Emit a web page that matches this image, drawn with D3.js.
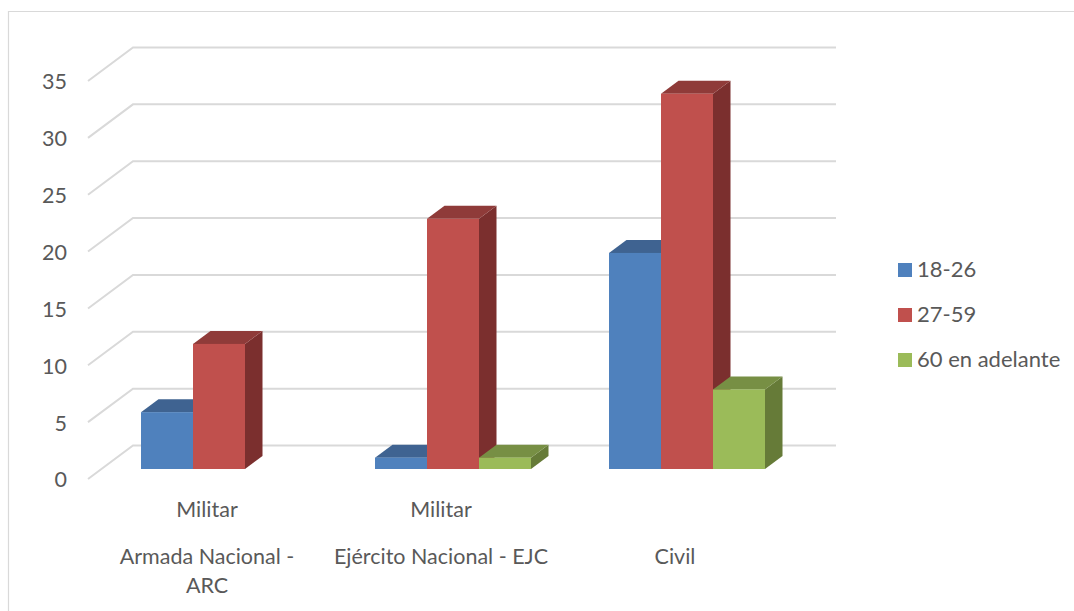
<!DOCTYPE html>
<html>
<head>
<meta charset="utf-8">
<script src="https://cdn.jsdelivr.net/npm/d3@7"></script>
<style>
  body { margin: 0; background: #fff; }
  svg { display: block; }
  text { font-family: Lato, "Open Sans", sans-serif; fill: #595959; }
</style>
</head>
<body>
<div id="chart"></div>
<script>
// values
const groups = ["Armada", "Ejercito", "Civil"];
const topLabels = ["Militar", "Militar", ""];
const bottomLabels = [["Armada Nacional -", "ARC"], ["Ejército Nacional - EJC"], ["Civil"]];
const seriesNames = ["18-26", "27-59", "60 en adelante"];
const values1826 = [5, 1, 19];
const values2759 = [11, 22, 33];
const values60 = [null, 1, 7];
const yTicks = [0, 5, 10, 15, 20, 25, 30, 35];

const seriesValues = [values1826, values2759, values60];
const front = ["#4f81bd", "#c0504d", "#9bbb59"];
const topFace = ["#3f6391", "#8f3b39", "#778f44"];
const sideFace = ["#385d8a", "#7b2f2e", "#667b38"];

const width = 1074;
const height = 611;

// the floor runs back from the front plane to the wall
const plot = { left: 88, right: 790, top: 81, bottom: 479 };
const depth = { x: 45, y: 33.5 };
const barShift = { x: 14, y: 10 };
const barDepth = { x: 17.5, y: 13 };

const svg = d3.select("#chart").append("svg")
    .attr("width", width)
    .attr("height", height);

// chart frame
svg.append("path")
    .attr("d", `M8.5,${height} V11.5 H${width}`)
    .attr("fill", "none")
    .attr("stroke", "#d9d9d9")
    .attr("stroke-width", 1.2);

const x = d3.scaleBand()
    .domain(groups)
    .range([plot.left, plot.right]);

const y = d3.scaleLinear()
    .domain([0, 35])
    .range([plot.bottom, plot.top]);

const inner = d3.scaleBand()
    .domain(d3.range(seriesNames.length))
    .range([x.bandwidth() / 2 - 78, x.bandwidth() / 2 + 78]);

// gridlines: side wall then back wall
svg.append("g")
    .selectAll("path")
    .data(yTicks)
    .join("path")
    .attr("d", d => `M${plot.left},${y(d)} L${plot.left + depth.x},${y(d) - depth.y} H836`)
    .attr("fill", "none")
    .attr("stroke", "#d9d9d9")
    .attr("stroke-width", 2);

// y axis
const yAxis = d3.axisLeft(y).tickValues(yTicks).tickSize(0).tickPadding(21);
const yG = svg.append("g")
    .attr("transform", `translate(${plot.left},1)`)
    .call(yAxis);
yG.select(".domain").remove();
yG.selectAll("text").style("font-size", "21.5px");

// category axis
const xAxis = d3.axisBottom(x).tickSize(0).tickFormat("");
const xG = svg.append("g")
    .attr("transform", `translate(0,${plot.bottom})`)
    .call(xAxis);
xG.select(".domain").remove();
xG.selectAll(".tick").each(function (d, i) {
    const tick = d3.select(this);
    tick.selectAll("text").remove();
    tick.append("text")
        .attr("text-anchor", "middle")
        .attr("x", 2)
        .attr("y", 38)
        .style("font-size", "21.5px")
        .text(topLabels[i]);
    bottomLabels[i].forEach((line, k) => {
        tick.append("text")
            .attr("text-anchor", "middle")
            .attr("x", 2)
            .attr("y", 85 + k * 29)
            .style("font-size", "21.5px")
            .text(line);
    });
});

// 3d bars, drawn left to right so each covers the side of the previous one
const bars = groups.flatMap((g, i) =>
    seriesNames.map((s, k) => ({ group: g, series: k, value: seriesValues[k][i] }))
).filter(d => d.value !== null);

const bar = svg.append("g").selectAll("g")
    .data(bars)
    .join("g")
    .attr("transform", `translate(${barShift.x},${-barShift.y})`);

bar.each(function (d) {
    const g = d3.select(this);
    const x0 = x(d.group) + inner(d.series);
    const x1 = x0 + inner.bandwidth();
    const yTop = y(d.value);
    const yBase = y(0);
    g.append("path")
        .attr("d", `M${x1},${yTop} l${barDepth.x},${-barDepth.y} V${yBase - barDepth.y} L${x1},${yBase} Z`)
        .attr("fill", sideFace[d.series]);
    g.append("path")
        .attr("d", `M${x0},${yTop} l${barDepth.x},${-barDepth.y} H${x1 + barDepth.x} L${x1},${yTop} Z`)
        .attr("fill", topFace[d.series]);
    g.append("rect")
        .attr("x", x0)
        .attr("y", yTop)
        .attr("width", inner.bandwidth())
        .attr("height", yBase - yTop)
        .attr("fill", front[d.series]);
});

// legend
const legend = svg.append("g")
    .attr("transform", "translate(898,270)")
    .selectAll("g")
    .data(seriesNames)
    .join("g")
    .attr("transform", (d, i) => `translate(0,${i * 45})`);

legend.append("rect")
    .attr("y", -7)
    .attr("width", 14)
    .attr("height", 14)
    .attr("fill", (d, i) => front[i]);

legend.append("text")
    .attr("x", 19)
    .attr("y", 7)
    .style("font-size", "22px")
    .text(d => d);
</script>
</body>
</html>
